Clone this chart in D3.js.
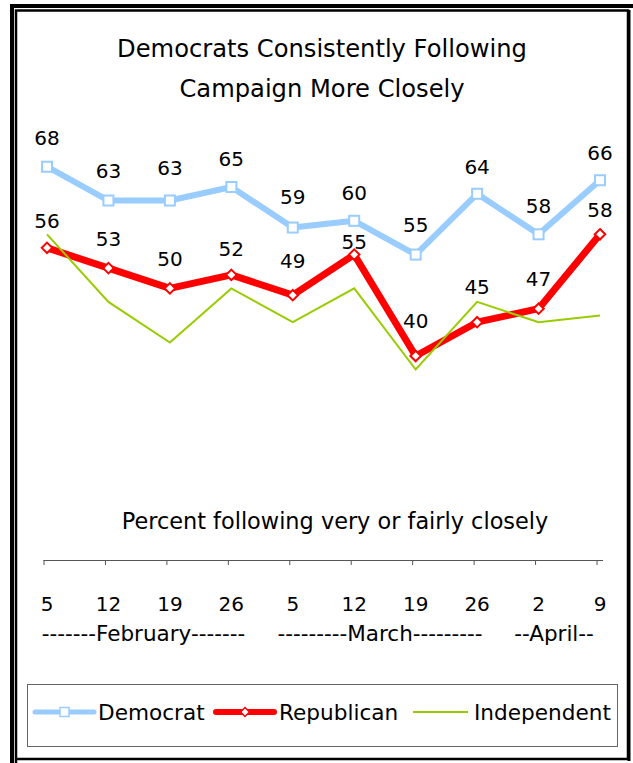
<!DOCTYPE html>
<html>
<head>
<meta charset="utf-8">
<script src="https://cdn.jsdelivr.net/npm/d3@7"></script>
<style>
  html, body { margin: 0; padding: 0; background: #fff; }
  svg { display: block; }
  text { font-family: "DejaVu Sans", sans-serif; fill: #000; }
</style>
</head>
<body>
<svg id="chart" width="633" height="763"></svg>
<script>
// ---- data ----
const tickLabels = ["5", "12", "19", "26", "5", "12", "19", "26", "2", "9"];
const monthLabels = ["-------February-------", "---------March---------", "--April--"];
const democrat    = [68, 63, 63, 65, 59, 60, 55, 64, 58, 66];
const republican  = [56, 53, 50, 52, 49, 55, 40, 45, 47, 58];
const independent = [58, 48, 42, 50, 45, 50, 38, 48, 45, 46];
const seriesNames = ["Democrat", "Republican", "Independent"];
// label lift above point (px) as in the original's hand-placed labels
const demLift = [22, 23, 26, 21, 24, 21, 23, 20, 21, 20];
const repLift = [20, 22, 22, 19, 27, 6, 28, 28, 23, 17];

const svg = d3.select("#chart");
const W = 633, H = 763;
const colors = { dem: "#99CCFF", rep: "#FF0000", ind: "#99CC00" };

// ---- frame ----
svg.append("rect").attr("x", 0).attr("y", 0).attr("width", W).attr("height", H).attr("fill", "#fff");
svg.append("path").attr("d", "M12,763 L12,6 L633,6").attr("fill", "none").attr("stroke", "#000").attr("stroke-width", 4);
svg.append("path").attr("d", "M16,763 L16,10.5 L628,10.5 L628,759 L16,759")
  .attr("fill", "none").attr("stroke", "#000").attr("stroke-width", 2.5);
svg.append("line").attr("x1", 629).attr("x2", 629).attr("y1", 10).attr("y2", 761)
  .attr("stroke", "#000").attr("stroke-width", 3);

// ---- title ----
const title = svg.append("text").attr("text-anchor", "middle").attr("font-size", 24.2);
title.append("tspan").attr("x", 322).attr("y", 57).text("Democrats Consistently Following");
title.append("tspan").attr("x", 322).attr("y", 97).text("Campaign More Closely");

// ---- scales ----
const idx = d3.range(tickLabels.length);
const x = d3.scalePoint().domain(idx).range([47, 600]);
const xTick = d3.scalePoint().domain(idx).range([43.5, 596.5]);
const y = d3.scaleLinear().domain([0, 70]).range([626.4, 153.2]);

// ---- axis ----
const axisY = 560;
const axisG = svg.append("g").attr("transform", `translate(0,${axisY})`)
  .call(d3.axisBottom(xTick).tickSize(5).tickSizeOuter(0).tickFormat(""));
axisG.select(".domain").remove();
axisG.selectAll(".tick line").attr("stroke", "#555");
svg.append("line").attr("x1", xTick(0)).attr("x2", 603).attr("y1", axisY + 0.5).attr("y2", axisY + 0.5)
  .attr("stroke", "#555").attr("stroke-width", 1);

svg.append("g").selectAll("text").data(tickLabels).join("text")
  .attr("x", (d, i) => x(i)).attr("y", 611)
  .attr("text-anchor", "middle").attr("font-size", 20).text(d => d);

const monthCenters = [143.5, 380, 554];
svg.append("g").selectAll("text").data(monthLabels).join("text")
  .attr("x", (d, i) => monthCenters[i]).attr("y", 641)
  .attr("text-anchor", "middle").attr("font-size", 21.5).text(d => d);

svg.append("text").attr("x", 335).attr("y", 529).attr("text-anchor", "middle")
  .attr("font-size", 22.4).text("Percent following very or fairly closely");

// ---- lines ----
const line = d3.line().x((d, i) => x(i)).y(d => y(d));

// Democrat
svg.append("path").datum(democrat).attr("d", line).attr("fill", "none")
  .attr("stroke", colors.dem).attr("stroke-width", 6).attr("stroke-linejoin", "round");
svg.append("g").selectAll("rect").data(democrat).join("rect")
  .attr("x", (d, i) => x(i) - 5).attr("y", d => y(d) - 5)
  .attr("width", 10).attr("height", 10)
  .attr("fill", "#fff").attr("stroke", colors.dem).attr("stroke-width", 2);

// Republican
svg.append("path").datum(republican).attr("d", line).attr("fill", "none")
  .attr("stroke", colors.rep).attr("stroke-width", 7).attr("stroke-linejoin", "round");
const diamond = d3.symbol().type(d3.symbolDiamond2).size(70);
svg.append("g").selectAll("path").data(republican).join("path")
  .attr("transform", (d, i) => `translate(${x(i)},${y(d)})`)
  .attr("d", diamond)
  .attr("fill", "#fff").attr("stroke", colors.rep).attr("stroke-width", 2);

// Independent
svg.append("path").datum(independent).attr("d", line).attr("fill", "none")
  .attr("stroke", colors.ind).attr("stroke-width", 2);

// ---- data labels ----
svg.append("g").selectAll("text").data(democrat).join("text")
  .attr("x", (d, i) => x(i)).attr("y", (d, i) => y(d) - demLift[i])
  .attr("text-anchor", "middle").attr("font-size", 20).text(d => d);
svg.append("g").selectAll("text").data(republican).join("text")
  .attr("x", (d, i) => x(i)).attr("y", (d, i) => y(d) - repLift[i])
  .attr("text-anchor", "middle").attr("font-size", 20).text(d => d);

// ---- legend ----
const lg = svg.append("g");
lg.append("rect").attr("x", 27.5).attr("y", 684.5).attr("width", 590).attr("height", 62)
  .attr("fill", "#fff").attr("stroke", "#666").attr("stroke-width", 1);
const ly = 712;
const legendItems = [
  { name: seriesNames[0], x1: 35, x2: 94, tx: 98, color: colors.dem, w: 5, marker: "square" },
  { name: seriesNames[1], x1: 216, x2: 274, tx: 279, color: colors.rep, w: 6, marker: "diamond" },
  { name: seriesNames[2], x1: 413, x2: 468, tx: 474, color: colors.ind, w: 2, marker: null }
];
legendItems.forEach(it => {
  lg.append("line").attr("x1", it.x1).attr("x2", it.x2).attr("y1", ly).attr("y2", ly)
    .attr("stroke", it.color).attr("stroke-width", it.w).attr("stroke-linecap", it.marker ? "round" : "butt");
  const cx = (it.x1 + it.x2) / 2;
  if (it.marker === "square") {
    lg.append("rect").attr("x", cx - 4.5).attr("y", ly - 4.5).attr("width", 9).attr("height", 9)
      .attr("fill", "#fff").attr("stroke", it.color).attr("stroke-width", 1.5);
  } else if (it.marker === "diamond") {
    lg.append("path").attr("transform", `translate(${cx},${ly})`)
      .attr("d", d3.symbol().type(d3.symbolDiamond2).size(50))
      .attr("fill", "#fff").attr("stroke", it.color).attr("stroke-width", 1.5);
  }
  lg.append("text").attr("x", it.tx).attr("y", ly + 7.5).attr("font-size", 21.6).text(it.name);
});
</script>
</body>
</html>
